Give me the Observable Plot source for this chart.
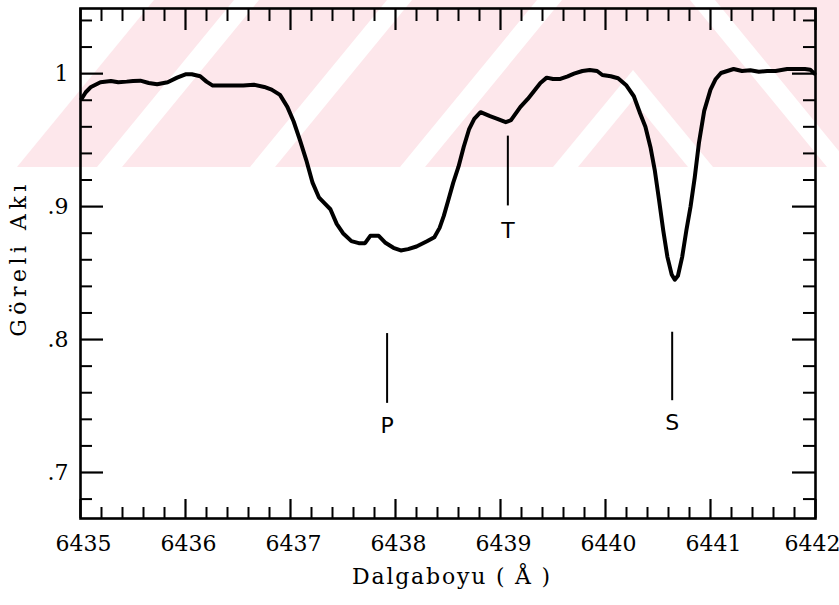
<!DOCTYPE html>
<html><head><meta charset="utf-8">
<script src="https://cdn.jsdelivr.net/npm/d3@7"></script>
<script src="https://cdn.jsdelivr.net/npm/@observablehq/plot@0.6"></script>
<style>
body{margin:0;background:#fff;}
#wrap{position:relative;width:839px;height:605px;overflow:hidden;}
#wm{position:absolute;left:0;top:0;}
#chart{position:absolute;left:0;top:0;}
</style></head><body>
<div id="wrap"><svg id="wm" width="839" height="605"></svg><div id="chart"></div></div>
<script>
// Spectrum (wavelength in Å, relative flux)
const wavelength = [6435.01,6435.05,6435.10,6435.19,6435.29,6435.36,6435.44,6435.50,6435.57,6435.65,6435.73,6435.83,6435.92,6436.00,6436.06,6436.14,6436.20,6436.26,6436.40,6436.55,6436.65,6436.75,6436.82,6436.90,6436.97,6437.03,6437.09,6437.15,6437.21,6437.27,6437.33,6437.38,6437.44,6437.50,6437.58,6437.65,6437.71,6437.76,6437.84,6437.90,6437.98,6438.05,6438.12,6438.20,6438.30,6438.37,6438.42,6438.46,6438.50,6438.55,6438.60,6438.65,6438.70,6438.75,6438.81,6438.90,6438.97,6439.05,6439.10,6439.19,6439.26,6439.32,6439.38,6439.44,6439.50,6439.57,6439.64,6439.70,6439.78,6439.85,6439.92,6439.97,6440.05,6440.12,6440.20,6440.27,6440.33,6440.38,6440.43,6440.47,6440.51,6440.55,6440.59,6440.63,6440.66,6440.69,6440.73,6440.77,6440.81,6440.85,6440.89,6440.94,6441.00,6441.05,6441.10,6441.22,6441.30,6441.38,6441.46,6441.54,6441.62,6441.73,6441.82,6441.90,6441.95,6441.99];
const flux = [0.981,0.986,0.990,0.9935,0.9945,0.9935,0.994,0.9945,0.9947,0.993,0.992,0.9935,0.997,0.9995,0.9995,0.998,0.994,0.991,0.991,0.991,0.9917,0.990,0.988,0.984,0.975,0.964,0.950,0.935,0.918,0.907,0.902,0.898,0.887,0.880,0.874,0.8725,0.8725,0.878,0.878,0.873,0.869,0.867,0.868,0.870,0.874,0.877,0.884,0.893,0.904,0.918,0.930,0.945,0.958,0.966,0.971,0.968,0.966,0.9635,0.965,0.975,0.981,0.987,0.993,0.997,0.996,0.996,0.998,1.000,1.002,1.0028,1.002,0.999,0.998,0.9965,0.991,0.983,0.970,0.960,0.944,0.927,0.905,0.882,0.862,0.849,0.845,0.848,0.862,0.882,0.900,0.922,0.948,0.972,0.988,0.996,1.0005,1.0035,1.002,1.0025,1.0015,1.002,1.002,1.0035,1.0035,1.0035,1.003,1.000];

// Line identifications
const lineNames = ["P", "T", "S"];
const lineX = [6437.92, 6439.07, 6440.635];
const lineTop = [0.8045, 0.953, 0.8055];
const lineBottom = [0.752, 0.9005, 0.754];
const labelY = [0.7353, 0.882, 0.7376];

// Axes
const xMajor = [6435, 6436, 6437, 6438, 6439, 6440, 6441, 6442];
const xTickLabels = ["6435", "6436", "6437", "6438", "6439", "6440", "6441", "6442"];
const yMajor = [0.7, 0.8, 0.9, 1.0];
const yTickLabels = [".7", ".8", ".9", "1"];
const xTitle = "Dalgaboyu ( Å )";
const yTitle = "Göreli Akı";

const xMinor = d3.range(6435, 6442.0001, 0.2).map(v => Math.round(v * 10) / 10).filter(v => !xMajor.includes(v));
const yMinor = d3.range(0.68, 1.0401, 0.02).map(v => Math.round(v * 100) / 100).filter(v => !yMajor.some(m => Math.abs(m - v) < 1e-9));

const spectrum = wavelength.map((w, i) => ({w, f: flux[i]}));
const ids = lineNames.map((n, i) => ({n, x: lineX[i], y1: lineBottom[i], y2: lineTop[i], ly: labelY[i]}));
const xLabelFmt = d => xTickLabels[xMajor.indexOf(d)];

const W = 839, H = 605, mL = 80, mR = 24, mT = 8, mB = 87;
const innerH = H - mT - mB, innerW = W - mL - mR;
const serif = "DejaVu Serif";

const chart = Plot.plot({
  width: W, height: H,
  marginLeft: mL, marginRight: mR, marginTop: mT, marginBottom: mB,
  style: {background: "transparent", fontFamily: serif, color: "black", overflow: "visible"},
  x: {domain: [6435, 6442]},
  y: {domain: [0.6654, 1.049]},
  marks: [
    Plot.tickX(xMajor, {insetTop: innerH - 19, strokeWidth: 2.2}),
    Plot.tickX(xMinor, {insetTop: innerH - 11, strokeWidth: 2}),
    Plot.tickX(xMajor, {insetBottom: innerH - 22, strokeWidth: 2.2}),
    Plot.tickX(xMinor, {insetBottom: innerH - 13, strokeWidth: 2}),
    Plot.tickY(yMajor, {insetRight: innerW - 23, strokeWidth: 2.2}),
    Plot.tickY(yMinor, {insetRight: innerW - 12, strokeWidth: 2}),
    Plot.tickY(yMajor, {insetLeft: innerW - 23, strokeWidth: 2.2}),
    Plot.tickY(yMinor, {insetLeft: innerW - 12, strokeWidth: 2}),
    Plot.frame({strokeWidth: 2.6}),
    Plot.line(spectrum, {x: "w", y: "f", stroke: "black", strokeWidth: 4, strokeLinejoin: "round", strokeLinecap: "round"}),
    Plot.ruleX(ids, {x: "x", y1: "y1", y2: "y2", strokeWidth: 2}),
    Plot.text(ids, {x: "x", y: "ly", text: "n", fontFamily: "DejaVu Sans", fontSize: 22}),
    Plot.axisX({ticks: xMajor.slice(0, -1), tickSize: 0, tickPadding: 17, fontSize: 22, fontFamily: serif, label: null,
      dx: 3, tickFormat: xLabelFmt}),
    Plot.axisX({ticks: xMajor.slice(-1), tickSize: 0, tickPadding: 17, fontSize: 22, fontFamily: serif, label: null,
      dx: -3, tickFormat: xLabelFmt}),
    Plot.axisY({ticks: yMajor, tickSize: 0, tickPadding: 12, fontSize: 22, fontFamily: serif, label: null,
      tickFormat: d => yTickLabels[yMajor.findIndex(m => Math.abs(m - d) < 1e-9)]}),
    Plot.text([xTitle], {frameAnchor: "bottom", textAnchor: "middle", dy: 65, dx: 4, fontSize: 22, fontFamily: serif}),
    Plot.text([yTitle], {frameAnchor: "left", textAnchor: "middle", rotate: -90, dx: -62, dy: -5, fontSize: 22, fontFamily: serif})
  ]
});
const svgSel = d3.select(chart);
svgSel.selectAll("text").filter(function() { return this.textContent === xTitle; }).style("letter-spacing", "1.8px");
svgSel.selectAll("text").filter(function() { return this.textContent === yTitle; }).style("letter-spacing", "4.5px");
document.getElementById("chart").appendChild(chart);

// faint background watermark
const wm = d3.select("#wm");
const pink = "#fde7eb";
wm.append("rect").attr("x", 0).attr("y", 0).attr("width", 839).attr("height", 167).attr("fill", pink);
const s = 137, hB = 167, gw = 25;
const whites = [
  [[0,0],[154,0],[17,hB],[0,hB]],
  ...[97, 250, 400].map(b => [[b,hB],[b+gw,hB],[b+gw+s,0],[b+s,0]]),
  [[553,hB],[633,70],[713,hB],[713-gw,hB],[633,70+gw*1.2],[553+gw,hB]],
  ...[690].map(t => [[t,0],[t+gw,0],[t+gw+s,hB],[t+s,hB]])
];
whites.forEach(p => wm.append("polygon").attr("points", p.map(q => q.join(",")).join(" ")).attr("fill", "#fff"));
</script>
</body></html>
